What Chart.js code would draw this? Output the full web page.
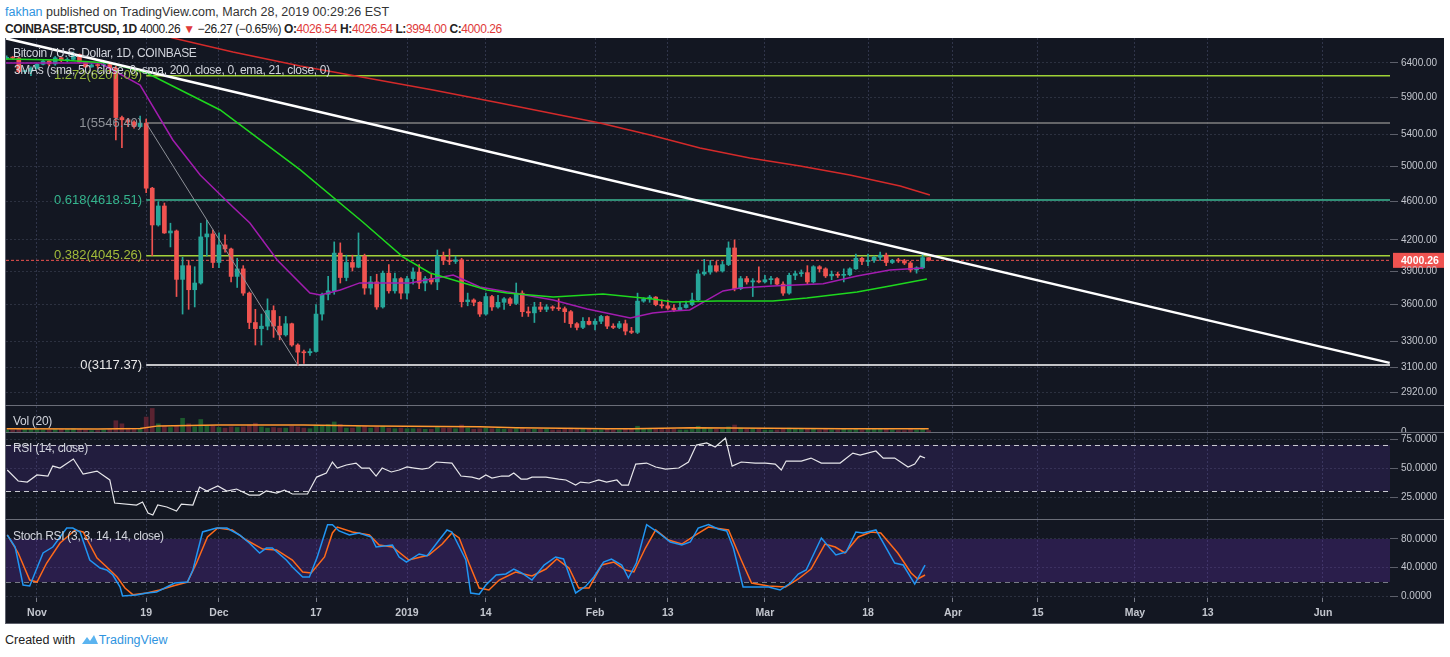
<!DOCTYPE html>
<html>
<head>
<meta charset="utf-8">
<script src="https://cdn.jsdelivr.net/npm/chart.js@4.4.1/dist/chart.umd.min.js"></script>
<style>
    body { margin: 0; width: 1450px; height: 657px; background: #fff; position: relative; overflow: hidden;
           font-family: 'Liberation Sans', Arial, sans-serif; }
    .abs { position: absolute; white-space: nowrap; line-height: 14px; }
    #frame { position: absolute; left: 5px; top: 38px; width: 1439px; height: 586px; background: #131722;
             border-left: 1px solid #5d606b; border-bottom: 1px solid #5d606b; box-sizing: border-box; }
    .pane { position: absolute; left: 6px; }
    .sep { position: absolute; left: 5px; width: 1439px; height: 1px; background: #6a6d78; }
    .leg { position: absolute; color: #d1d4dc; font-size: 12px; letter-spacing: -0.3px; white-space: nowrap; line-height: 14px; }
    .red { color: #e03a3a; }
    b { font-weight: bold; }
</style>
</head>
<body>

<div class="abs" style="left:5px;top:5px;font-size:12.5px;color:#333"><span style="color:#2f94e0">fakhan</span> published on TradingView.com, March 28, 2019 00:29:26 EST</div>
<div class="abs" style="left:5px;top:22px;font-size:12px;letter-spacing:-0.4px;color:#222"><b>COINBASE:BTCUSD, 1D</b> 4000.26 <span class="red">&#9660;</span> &minus;26.27 (&minus;0.65%) <b>O:</b><span class="red">4026.54</span> <b>H:</b><span class="red">4026.54</span> <b>L:</b><span class="red">3994.00</span> <b>C:</b><span class="red">4000.26</span></div>

<div id="frame"></div>
<div class="pane" style="top:38px"><canvas id="mainChart" width="1438" height="368"></canvas></div>
<div class="pane" style="top:406px"><canvas id="volChart" width="1438" height="27"></canvas></div>
<div class="pane" style="top:433px"><canvas id="rsiChart" width="1438" height="87"></canvas></div>
<div class="pane" style="top:520px"><canvas id="stochChart" width="1438" height="103"></canvas></div>
<div class="sep" style="top:405px"></div>
<div class="sep" style="top:432px"></div>
<div class="sep" style="top:519px"></div>

<div class="leg" style="left:13px;top:46px">Bitcoin / U.S. Dollar, 1D, COINBASE</div>
<div class="leg" style="left:14px;top:63px">3MAs (sma, 50, close, 0, sma, 200, close, 0, ema, 21, close, 0)</div>
<div class="leg" style="left:13px;top:414px">Vol (20)</div>
<div class="leg" style="left:13px;top:441px">RSI (14, close)</div>
<div class="leg" style="left:13px;top:529px">Stoch RSI (3, 3, 14, 14, close)</div>

<div class="abs" style="left:5px;top:633px;font-size:12.5px;color:#222">Created with
    <svg width="18" height="11" viewBox="0 0 18 11" style="vertical-align:-1px;margin-left:2px"><path d="M1 10 L6 3 L9 7 L13 1 L17 10 Z" fill="#5bb4f0"/></svg><span style="color:#2f94e0">TradingView</span></div>

<script type="text/javascript">
// candles start Oct 27 2018; day 0 = Nov 1 2018
const firstDay = -5;
const opens = [6470,6480,6475,6270,6275,
    6320,6380,6430,6385,6480,6440,6455,6530,6410,6340,6370,6360,6375,6320,5620,5590,5560,5500,5546.4,4750,4352,4553,4270,4290,3823,3950,3730,3790,4230,4260,
    3980,4150,4110,3850,3920,3700,3450,3400,3420,3550,3420,3350,3440,3270,3215,3210,3220,3520,3690,3720,4070,3840,3980,3935,4040,3745,3800,3580,3880,3720,3830,
    3700,3830,3890,3790,3830,3800,4040,4000,3990,4005,3625,3640,3620,3520,3670,3580,3620,3650,3610,3700,3540,3530,3580,3560,3580,3570,3565,3540,3440,3410,3460,
    3435,3460,3500,3420,3410,3440,3380,3370,3630,3650,3665,3600,3590,3570,3555,3575,3600,3640,3873,3890,3950,3900,3960,4120,3740,3830,3800,3810,
    3800,3820,3830,3780,3700,3860,3875,3885,3800,3940,3920,3855,3870,3860,3865,3920,4020,3990,4000,4030,4050,3980,4000,3995,3975,3910,3930,4026.54];
const highs = [6510,6500,6485,6290,6340,
    6390,6450,6435,6500,6485,6480,6570,6540,6420,6390,6390,6400,6380,6350,5640,5610,5575,5640,5600,4760,4600,4585,4370,4300,4030,4000,3940,4370,4400,4300,
    4270,4250,4120,4020,3950,3710,3560,3520,3650,3590,3500,3500,3445,3280,3230,3240,3600,3700,3850,4180,4170,4050,4050,4270,4060,3850,3870,3900,3960,3880,3840,
    3850,3930,3960,3850,3870,4100,4080,4110,4040,4020,3700,3650,3625,3700,3680,3680,3660,3660,3790,3720,3580,3620,3620,3600,3590,3650,3580,3550,3450,3490,3490,
    3480,3510,3505,3440,3460,3470,3410,3700,3660,3680,3670,3640,3640,3600,3620,3630,3700,3910,4010,4000,3990,3990,4180,4200,3850,3850,3830,3940,
    3860,3850,3840,3800,3880,3900,3910,3950,3950,3950,3930,3900,3890,3920,3930,4060,4030,4060,4040,4080,4070,4010,4020,4010,3990,3940,4060,4026.54];
const lows = [6455,6460,6250,6240,6210,
    6310,6370,6360,6365,6420,6420,6450,6400,6330,6335,6320,6350,6260,5330,5230,5500,5480,5490,4700,4045,4340,4265,4130,3670,3520,3560,3580,3780,4040,3930,
    3930,4080,3800,3750,3680,3400,3270,3270,3390,3330,3310,3340,3260,3117.37,3130,3190,3215,3470,3640,3690,3790,3810,3900,3930,3690,3690,3560,3570,3700,3700,3650,
    3650,3780,3740,3720,3780,3730,3960,3960,3970,3580,3590,3590,3500,3510,3550,3570,3560,3590,3600,3500,3500,3450,3540,3540,3550,3550,3450,3410,3390,3400,3430,
    3390,3440,3400,3400,3400,3350,3360,3360,3620,3620,3590,3570,3560,3540,3550,3570,3590,3630,3860,3870,3890,3890,3950,3720,3730,3780,3670,3790,
    3790,3780,3770,3680,3690,3820,3850,3780,3790,3890,3840,3820,3840,3800,3855,3915,3960,3950,3980,4000,3950,3970,3980,3960,3890,3880,3920,3994];
const closes = [6480,6475,6270,6275,6320,
    6380,6430,6385,6480,6440,6455,6530,6410,6340,6370,6360,6375,6320,5620,5590,5560,5500,5546.4,4750,4352,4553,4270,4290,3823,3950,3730,3790,4230,4260,3980,
    4150,4110,3850,3920,3700,3450,3400,3420,3550,3420,3350,3440,3270,3215,3210,3220,3520,3690,3720,4070,3840,3980,3935,4040,3745,3800,3580,3880,3720,3830,3700,
    3830,3890,3790,3830,3800,4040,4000,3990,4005,3625,3640,3620,3520,3670,3580,3620,3650,3610,3700,3540,3530,3580,3560,3580,3570,3565,3540,3440,3410,3460,3435,
    3460,3500,3420,3410,3440,3380,3370,3630,3650,3665,3600,3590,3570,3555,3575,3600,3640,3873,3890,3950,3900,3960,4120,3740,3830,3800,3810,3800,
    3820,3830,3780,3700,3860,3875,3885,3800,3940,3920,3855,3870,3860,3865,3920,4020,3990,4000,4030,4050,3980,4000,3995,3975,3910,3930,4026.54,4000.26];
// volume, thousand BTC
const volumes = [3,3,5,4,4,
    4,3,3,4,4,4,5,4,3,2,2,3,4,18,13,6,4,5,24,38,13,9,7,9,22,13,8,20,10,9,
    7,6,8,7,8,11,14,8,6,7,6,6,9,8,6,5,11,10,12,16,12,6,6,9,9,6,8,9,6,5,6,
    5,5,5,4,4,7,6,6,5,11,6,4,5,6,5,5,4,4,5,6,4,4,4,4,3,3,4,6,5,4,4,
    3,3,4,3,3,4,4,9,5,4,4,4,4,4,3,3,4,9,7,5,4,4,8,11,6,4,5,4,
    3,3,3,4,6,4,4,5,4,3,4,3,3,4,3,5,3,4,4,4,4,3,2,2,4,3,5,2];
const volMaDays = [-5,10,17,20,30,44,55,73,79,94,98,108,133,147];
const volMa = [5,4.5,5.5,9.6,11,11,9.6,8,6.4,4.8,4.8,6.4,4.8,4.8];

// moving averages
const sma50Days = [-5.1,3.8,12.0,18.1,30.2,43.4,53.7,60.3,64.8,74.2,77.5,85.1,93.3,101.5,104.8,112.1,121.3,126.9,135.2,140.6,146.7];
const sma50 = [6461,6446,6400,6249,5722,4961,4383,4033,3882,3728,3701,3667,3693,3649,3623,3632,3632,3658,3710,3763,3827];
const sma200Days = [15,22.4,32.3,43.4,54.4,65.3,76.3,86.2,92.8,101.1,109.3,117.5,125.8,134.0,142.3,147.2];
const sma200 = [7000,6792,6570,6354,6175,6001,5819,5655,5548,5392,5228,5105,5008,4902,4775,4674];
const ema21Days = [-5.1,10.4,17.0,22.4,26.9,32.3,35.1,39.6,45.0,46.7,50.0,53.2,61.5,68.6,73.0,85.1,90.7,97.8,101.5,104.8,107.6,113.1,115.9,121.3,129.6,135.2,140.6,146.1];
const ema21 = [6400,6400,6073,5328,4902,4542,4372,4004,3701,3684,3728,3791,3791,3863,3755,3640,3563,3487,3529,3546,3555,3719,3746,3763,3783,3854,3910,3928];

// drawings
const trendDays = [-5.1, 223];
const trendPrices = [6786, 3134];
const fibLevels = ['1.272', '1', '0.618', '0.382', '0'];
const fibPrices = [6207.09, 5546.40, 4618.51, 4045.26, 3117.37];
const fibStartDay = 18;
const fibEndDay = 43;
const lastPrice = 4000.26;

// indicators
const rsiDays = [-4.9,-3.1,-1.6,0,1.8,2.6,3.8,6.0,7.6,9.9,12.0,12.8,16.4,17.4,18.3,19.1,19.9,21.4,23.0,23.8,25.7,26.8,28.0,29.8,31.3,32.9,35.0,36.7,37.8,39.5,40.8,42.1,44.6,46.1,47.7,48.7,49.5,51.0,52.6,53.5,54.8,55.9,56.9,58.4,59.7,61.0,62.2,63.5,64.6,65.8,68.4,69.9,71.7,72.9,74.0,75.0,76.6,77.8,78.6,79.8,80.8,81.6,83.9,86.0,87.2,88.8,89.6,91.0,92.6,93.9,95.6,96.4,97.5,98.7,100.5,102.0,103.6,105.8,107.4,108.7,110.4,111.8,113.5,114.6,116.1,118.4,120.1,121.7,122.7,123.5,126.0,127.6,129.3,132.4,134.5,135.7,138.3,139.5,141.4,143.6,144.7,145.6,146.4];
const rsi = [48.3,38.8,37.9,44.0,43.1,51.7,50,57.8,44.8,47.4,39.7,19.8,18.1,20.7,11.2,9.5,18.1,16.4,12.9,18.9,18.1,33.6,30.2,34.5,30.2,31.9,26.7,26.7,30.2,28.4,31.0,27.6,27.6,42.2,45.7,55.2,50,52.6,54.3,50,50,43.1,50,46.6,48.3,50.9,50,49.1,50,55.2,54.3,43.1,42.2,40.5,44.0,41.4,43.1,43.1,45.7,40.5,40.5,42.2,42.2,40.5,39.7,35.3,37.9,37.1,39.7,37.9,39.7,35.3,35.3,53.4,54.3,50.9,49.1,50,55.2,69.8,71.6,68.1,75.9,51.7,55.2,54.3,54.3,53.4,48.3,56.0,56.0,58.6,54.3,54.3,62.9,61.2,64.7,58.6,58.6,50.9,53.4,60.3,58.6];
const stochKDays = [-4.9,-3.6,-2.3,-1.2,1.0,2.6,4.9,5.9,7.1,8.7,10.4,11.5,12.5,13.7,14.1,16.4,18.1,19.7,21.4,22.7,24.8,25.7,27.3,29.6,31.3,33.4,35.0,36.7,37.8,38.8,41.1,42.1,43.8,44.9,46.2,47.9,48.7,49.8,51.5,53.1,55.1,55.9,58.6,59.7,60.9,63.0,64.3,66.3,67.6,68.4,70.7,71.5,72.9,74.0,75.7,77.3,78.6,79.9,81.6,83.6,85.5,86.8,88.8,90.5,91.8,93.4,94.7,96.4,97.5,98.8,100.5,102.5,104.4,106.3,107.7,109.0,110.7,112.3,113.7,114.8,116.4,118.4,120.6,122.5,124.2,125.5,126.8,129.3,131.7,133.4,135.0,136.2,138.3,141.4,142.8,144.7,146.4];
const stochK = [85.6,68.8,15.8,14.4,60.5,68.8,95.3,95.3,89.8,50.7,39.5,36.7,29.8,13,0.5,1.9,4.7,6,13,18.6,20,36.7,89.8,95.3,95.3,85.6,74.4,60.5,67.4,67.4,50.7,40.9,27,27,54.9,100,100,91.2,85.6,88.4,82.8,68.8,71.6,54.9,47.9,59.1,56.3,78.6,92.6,89.8,50.7,4.7,3,15.8,29.8,31.2,38.1,32.6,22.8,43.7,54.9,52.1,4.7,14.4,27,47.9,52.1,43.7,25.6,46.5,100,88.4,75.8,71.6,75.8,95.3,100,93.9,91.2,67.4,13,13,13,8.8,18.6,31.2,36.7,81.4,57.7,61.9,89.8,88.4,92.6,46.5,43.7,17.2,43.7];
const stochDDays = [-4.9,-3.1,-1.2,0,1.6,3.8,6.3,7.6,9.9,11.5,13.2,14.5,15.8,18.1,20.2,22.4,24.8,26.3,28.1,29.8,32.2,34.5,37.2,39.5,42.1,43.8,45.2,47.4,48.7,49.5,52.0,54.8,56.4,58.6,61.3,64.6,66.8,68.4,69.6,71.2,72.9,74.5,76.2,78.9,81.6,83.9,85.7,87.7,89.3,91.0,93.1,95.1,97.0,98.4,100.3,102.0,104.1,106.3,108.6,110.7,114.0,116.1,117.8,120.6,123.4,125.5,127.6,129.9,131.6,133.2,135.4,137.5,139.1,141.9,144.1,145.2,146.4];
const stochD = [85.6,60.5,22.8,20,46.5,74.4,92.6,89.8,53.5,41,27,11.6,2.4,4.7,8.8,14.4,20,46.5,82.8,95.3,92.6,78.6,66,64.7,50.7,34,32.6,54.9,88.4,96.7,89.8,85.6,71.6,68.8,50.7,57.7,73,88.4,81.4,46.5,11.6,8.8,22.8,34,28.4,38.1,52.1,39.5,11.6,11.6,43.7,47.9,36.7,34,67.4,92.6,78.6,73,85.6,96.7,92.6,50.7,18.6,14.4,13,24.2,38.1,73,68.8,60.5,82.8,89.8,88.4,60.5,32.6,24.2,29.8];

// axes
const xMin = -5.11;
const xMax = 223.05;
const dayTicks = [0, 18, 30, 46, 61, 74, 92, 104, 120, 137, 151, 165, 181, 193, 212];
const xLabels = ['Nov', '19', 'Dec', '17', '2019', '14', 'Feb', '13', 'Mar', '18', 'Apr', '15', 'May', '13', 'Jun'];
const priceTicks = [6400, 5900, 5400, 5000, 4600, 4200, 3900, 3600, 3300, 3100, 2920];
const rsiTicks = [25, 50, 75];
const stochTicks = [0, 40, 80];

const UP = '#26a69a', DOWN = '#ef5350';
const gridColor = '#2c3140';
const tickText = '#c3c6ce';
const FONT = 'Liberation Sans';

function pts(xs, ys) { return xs.map((x, i) => ({x: x, y: ys[i]})); }

function xAxis(showLabels) {
    return {
        type: 'linear', min: xMin, max: xMax, offset: false, bounds: 'data',
        afterBuildTicks: s => { s.ticks = dayTicks.map(v => ({value: v})); },
        afterFit: s => { s.height = showLabels ? 25 : 0; },
        ticks: {display: showLabels, autoSkip: false, maxRotation: 0, padding: 5, color: tickText,
                font: {family: FONT, size: 10.5, weight: 'bold'}, callback: (v, i) => xLabels[i]},
        grid: {color: '#30354a', offset: false, drawTicks: showLabels, tickLength: 4, tickColor: '#787b86', tickBorderDash: []},
        border: {display: false, dash: [2, 2]}
    };
}

// labels of the price axis are painted by the yLabels plugin, so the scale adds no padding
function yAxis(type, min, max, ticks) {
    return {
        type: type, position: 'right', min: min, max: max, bounds: 'data',
        afterBuildTicks: s => { s.ticks = ticks.map(v => ({value: v})); },
        afterFit: s => { s.width = 54; },
        ticks: {display: false},
        grid: {color: gridColor, tickColor: '#5d606b', tickLength: 8, tickBorderDash: []},
        border: {display: false, dash: [2, 2]}
    };
}

function yLabels(fmt) {
    return {
        id: 'yLabels',
        afterDraw(chart) {
            const {ctx, chartArea, scales: {y}} = chart;
            ctx.save();
            ctx.font = '10px ' + FONT;
            ctx.fillStyle = tickText;
            ctx.textAlign = 'left';
            ctx.textBaseline = 'middle';
            y.ticks.forEach(t => ctx.fillText(fmt(t.value), chartArea.right + 11, y.getPixelForValue(t.value)));
            ctx.restore();
        }
    };
}

const baseOptions = {
    responsive: false, animation: false, events: [],
    layout: {padding: 0, autoPadding: false},
    plugins: {legend: {display: false}, tooltip: {enabled: false}}
};

// fib labels + last price tag
const labelsPlugin = {
    id: 'fibLabels',
    afterDatasetsDraw(chart) {
        const {ctx, scales: {x, y}} = chart;
        const colors = ['#97b93a', '#8f9299', '#35b58e', '#a3bb3a', '#e8e8e8'];
        ctx.save();
        ctx.font = '13px ' + FONT;
        ctx.textAlign = 'right';
        ctx.textBaseline = 'middle';
        fibLevels.forEach((lv, i) => {
            ctx.fillStyle = colors[i];
            ctx.fillText(lv + '(' + fibPrices[i].toFixed(2) + ')', x.getPixelForValue(fibStartDay) - 4, y.getPixelForValue(fibPrices[i]));
        });
        ctx.restore();
    },
    afterDraw(chart) {
        const {ctx, chartArea, scales: {y}} = chart;
        const py = y.getPixelForValue(lastPrice);
        ctx.save();
        ctx.fillStyle = DOWN;
        ctx.fillRect(chartArea.right + 3, py - 7.5, 60, 15);
        ctx.fillStyle = '#fff';
        ctx.font = 'bold 10.5px ' + FONT;
        ctx.textBaseline = 'middle';
        ctx.fillText(lastPrice.toFixed(2), chartArea.right + 11, py + 0.5);
        ctx.restore();
    }
};

// indicator bands
const bandPlugin = {
    id: 'band',
    beforeDatasetsDraw(chart, args, opts) {
        if (opts.from === undefined) return;
        const {ctx, chartArea: a, scales: {y}} = chart;
        const top = y.getPixelForValue(opts.to), bottom = y.getPixelForValue(opts.from);
        ctx.save();
        ctx.fillStyle = opts.color;
        ctx.fillRect(a.left, top, a.right - a.left, bottom - top);
        ctx.strokeStyle = opts.lineColor;
        ctx.lineWidth = 1;
        ctx.setLineDash([5, 4]);
        opts.lines.forEach(v => {
            const py = Math.round(y.getPixelForValue(v)) + 0.5;
            ctx.beginPath(); ctx.moveTo(a.left, py); ctx.lineTo(a.right, py); ctx.stroke();
        });
        ctx.restore();
    }
};

const candleDays = opens.map((o, i) => firstDay + i);
const candleColors = opens.map((o, i) => closes[i] >= o ? UP : DOWN);

function line(data, color, width, order, extra) {
    return Object.assign({type: 'line', data: data, borderColor: color, borderWidth: width, pointRadius: 0,
                          tension: 0, fill: false, order: order}, extra || {});
}

// ---- main price pane
const fibColors = ['#9fd236', '#808080', '#3cb894', '#a5d23a', '#ffffff'];
const mainDatasets = [
    {type: 'bar', data: candleDays.map((d, i) => ({x: d, y: [lows[i], highs[i]]})), backgroundColor: candleColors,
     barThickness: 1, grouped: false, order: 6},
    {type: 'bar', data: candleDays.map((d, i) => ({x: d, y: [opens[i], closes[i]]})), backgroundColor: candleColors,
     barThickness: 4, minBarLength: 1, grouped: false, order: 5},
    line(pts(sma50Days, sma50), '#1ed81e', 1.5, 3),
    line(pts(sma200Days, sma200), '#d42a2a', 1.5, 3),
    line(pts(ema21Days, ema21), '#a21caf', 1.5, 3),
    line(pts([fibStartDay, fibEndDay], [fibPrices[1], fibPrices[4]]), '#8f9299', 1, 4),
    line(pts([xMin, xMax], [lastPrice, lastPrice]), DOWN, 1, 7, {borderDash: [3, 2]}),
    line(pts(trendDays, trendPrices), '#ffffff', 2.5, 1)
];
fibPrices.forEach((p, i) => {
    mainDatasets.push(line(pts([fibStartDay, xMax], [p, p]), fibColors[i], 1.5, 8));
});

new Chart(document.getElementById('mainChart'), {
    type: 'bar',
    data: {datasets: mainDatasets},
    options: Object.assign({}, baseOptions, {
        scales: {
            x: xAxis(false),
            y: yAxis('logarithmic', 2828, 6792, priceTicks)
        }
    }),
    plugins: [labelsPlugin, yLabels(v => v.toFixed(2))]
});

// ---- volume pane
new Chart(document.getElementById('volChart'), {
    type: 'bar',
    data: {datasets: [
        {type: 'bar', data: candleDays.map((d, i) => ({x: d, y: volumes[i]})),
         backgroundColor: opens.map((o, i) => closes[i] >= o ? '#1d5a2e' : '#5b2331'),
         barThickness: 4, grouped: false, order: 2},
        line(pts(volMaDays, volMa), '#ff9830', 1.5, 1)
    ]},
    options: Object.assign({}, baseOptions, {
        scales: {
            x: xAxis(false),
            y: Object.assign(yAxis('linear', -2, 42, [0]), {grid: {display: false}})
        }
    }),
    plugins: [yLabels(v => '0')]
});

// ---- RSI pane
new Chart(document.getElementById('rsiChart'), {
    type: 'line',
    data: {datasets: [line(pts(rsiDays, rsi), '#e6e6ea', 1.2, 1)]},
    options: Object.assign({}, baseOptions, {
        plugins: Object.assign({}, baseOptions.plugins, {
            band: {from: 30, to: 70, color: 'rgba(110, 60, 200, 0.17)', lineColor: '#c9cad0', lines: [30, 70]}
        }),
        scales: {
            x: xAxis(false),
            y: yAxis('linear', 5.2, 80.2, rsiTicks)
        }
    }),
    plugins: [bandPlugin, yLabels(v => v.toFixed(4))]
});

// ---- Stoch RSI pane
new Chart(document.getElementById('stochChart'), {
    type: 'line',
    data: {datasets: [
        line(pts(stochKDays, stochK), '#2196f3', 1.5, 1),
        line(pts(stochDDays, stochD), '#ff6a1a', 1.5, 2)
    ]},
    options: Object.assign({}, baseOptions, {
        plugins: Object.assign({}, baseOptions.plugins, {
            band: {from: 20, to: 80, color: 'rgba(110, 50, 200, 0.25)', lineColor: '#787b86', lines: [20]}
        }),
        scales: {
            x: xAxis(true),
            y: yAxis('linear', -2.3, 106.5, stochTicks)
        }
    }),
    plugins: [bandPlugin, yLabels(v => v.toFixed(4))]
});
</script>
</body>
</html>
